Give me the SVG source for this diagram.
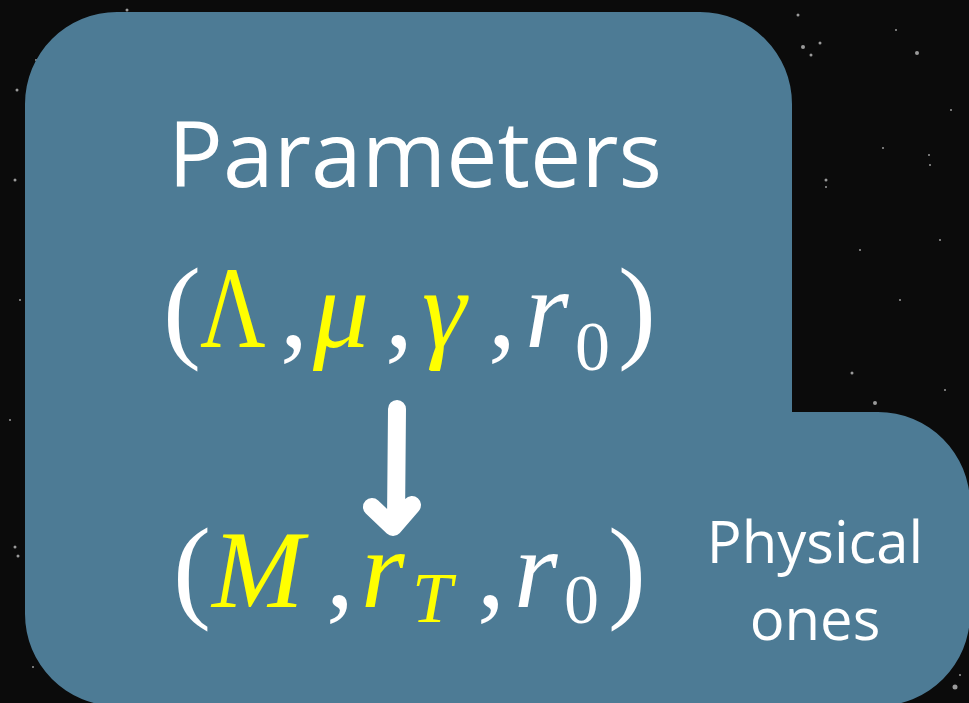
<svg xmlns="http://www.w3.org/2000/svg" width="969" height="703" viewBox="0 0 969 703">
<style>
.lbl{font-family:"Open Sans","Noto Sans",sans-serif;fill:#ffffff}
.m{font-family:"Liberation Serif","DejaVu Serif",serif;fill:#ffffff}
.y{fill:#ffff00}
.it{font-style:italic}
.star{fill:#9a9a9a}
</style>
<rect x="0" y="0" width="969" height="703" fill="#0b0b0b"/>
<g id="stars">
<circle class="star" cx="127" cy="10" r="1.5"/><circle class="star" cx="17" cy="90" r="1.5"/><circle class="star" cx="15" cy="180" r="1.5"/>
<circle class="star" cx="36" cy="60" r="1"/><circle class="star" cx="20" cy="300" r="1"/><circle class="star" cx="10" cy="420" r="1"/>
<circle class="star" cx="15" cy="547" r="1.5"/><circle class="star" cx="18" cy="556" r="1.5"/><circle class="star" cx="33" cy="667" r="1"/>
<circle class="star" cx="798" cy="15" r="1.5"/><circle class="star" cx="803" cy="47" r="2"/><circle class="star" cx="811" cy="55" r="1.5"/>
<circle class="star" cx="820" cy="43" r="1.5"/><circle class="star" cx="917" cy="53" r="2"/><circle class="star" cx="896" cy="30" r="1"/>
<circle class="star" cx="930" cy="165" r="1"/><circle class="star" cx="929" cy="155" r="1"/><circle class="star" cx="883" cy="148" r="1"/>
<circle class="star" cx="826" cy="180" r="1.5"/><circle class="star" cx="826" cy="187" r="1"/><circle class="star" cx="951" cy="110" r="1"/>
<circle class="star" cx="852" cy="373" r="1.5"/><circle class="star" cx="875" cy="403" r="2"/><circle class="star" cx="945" cy="390" r="1"/>
<circle class="star" cx="955" cy="687" r="2.5"/><circle class="star" cx="960" cy="675" r="1"/><circle class="star" cx="950" cy="660" r="1"/>
<circle class="star" cx="860" cy="250" r="1"/><circle class="star" cx="900" cy="300" r="1"/><circle class="star" cx="940" cy="240" r="1"/>
</g>
<g id="panel">
<path d="M117,12 H700 A92,92 0 0 1 792,104 V412 H878 A92,92 0 0 1 970,504 V614 A92,92 0 0 1 878,706 H117 A92,92 0 0 1 25,614 V104 A92,92 0 0 1 117,12 Z" fill="#4d7b95"/>
</g>
<g id="title">
<text class="lbl" x="415" y="187" font-size="92" text-anchor="middle" textLength="494" lengthAdjust="spacingAndGlyphs">Parameters</text>
</g>
<g id="params">
<text class="m" x="163" y="347" font-size="114">(</text>
<text class="m y" transform="translate(200,347) scale(0.78,1)" x="0" y="0" font-size="116">Λ</text>
<text class="m" x="280" y="347" font-size="112">,</text>
<text class="m y it" x="313" y="347" font-size="112">μ</text>
<text class="m" x="385" y="347" font-size="112">,</text>
<text class="m y it" x="422" y="347" font-size="112">γ</text>
<text class="m" x="488" y="347" font-size="112">,</text>
<text class="m it" x="525" y="347" font-size="112">r</text>
<text class="m" x="575" y="370" font-size="70">0</text>
<text class="m" x="618" y="347" font-size="114">)</text>
</g>
<g id="connectors">
<path d="M397,409 L396,521 M372,507 L393,527 L412,505" fill="none" stroke="#ffffff" stroke-width="18" stroke-linecap="round" stroke-linejoin="round"/>
</g>
<g id="physical">
<text class="m" x="173" y="607" font-size="114">(</text>
<text class="m y it" x="212" y="607" font-size="110">M</text>
<text class="m" x="326" y="607" font-size="112">,</text>
<text class="m y it" x="361" y="607" font-size="112">r</text>
<text class="m y it" x="412" y="622" font-size="72">T</text>
<text class="m" x="477" y="607" font-size="112">,</text>
<text class="m it" x="514" y="607" font-size="112">r</text>
<text class="m" x="564" y="623" font-size="70">0</text>
<text class="m" x="608" y="607" font-size="114">)</text>
</g>
<g id="physical-label">
<text class="lbl" x="815" y="563" font-size="58" text-anchor="middle">Physical</text>
<text class="lbl" x="815" y="640" font-size="58" text-anchor="middle">ones</text>
</g>
</svg>
